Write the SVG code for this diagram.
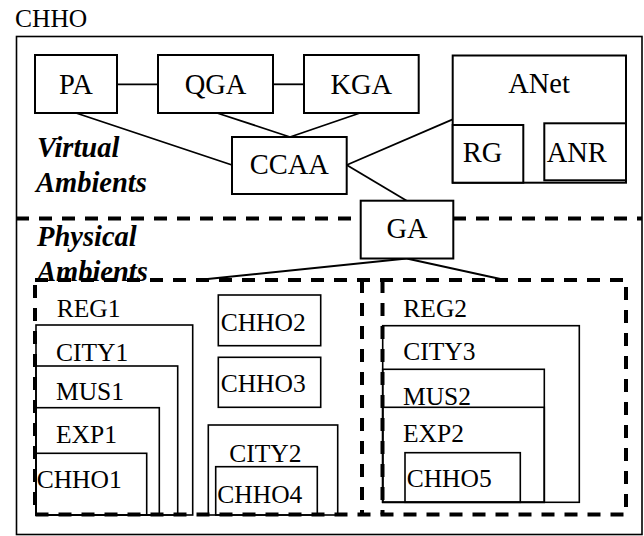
<svg xmlns="http://www.w3.org/2000/svg" width="644" height="536" viewBox="0 0 644 536">
<style>
.b{fill:#fff;stroke:#000;stroke-width:2}
.t{fill:none;stroke:#000;stroke-width:1.6}
.ln{stroke:#000;stroke-width:1.8;fill:none}
.d{fill:none;stroke:#000;stroke-width:4;stroke-dasharray:13 10}
.L{font-family:"Liberation Serif","Times New Roman",serif;font-size:28.5px;fill:#000}
.S{font-family:"Liberation Serif","Times New Roman",serif;font-size:25.5px;fill:#000}
.BI{font-family:"Liberation Serif","Times New Roman",serif;font-size:28.5px;font-weight:bold;font-style:italic;fill:#000}
.m{text-anchor:middle}
</style>
<rect id="outer" x="16.5" y="36.5" width="625.5" height="498" fill="#fff" stroke="#000" stroke-width="1.6"/>
<text class="S" x="15" y="27">CHHO</text>
<text class="BI" x="37" y="157">Virtual</text>
<text class="BI" x="36" y="192">Ambients</text>
<line class="d" x1="16" y1="218.5" x2="642" y2="218.5"/>
<text class="BI" x="37" y="245.5">Physical</text>
<text class="BI" x="37" y="280.5">Ambients</text>
<g id="connectors">
<line class="ln" x1="117" y1="84.3" x2="158" y2="84.3"/>
<line class="ln" x1="273" y1="84.3" x2="304" y2="84.3"/>
<line class="ln" x1="76" y1="113" x2="232" y2="165"/>
<line class="ln" x1="217" y1="113" x2="290" y2="137"/>
<line class="ln" x1="360" y1="113" x2="290" y2="137"/>
<line class="ln" x1="346.7" y1="165" x2="452.7" y2="119.3"/>
<line class="ln" x1="346.7" y1="165" x2="406.7" y2="200.7"/>
<line class="ln" x1="406.7" y1="258.5" x2="198" y2="280"/>
<line class="ln" x1="406.7" y1="258.5" x2="505" y2="280"/>
</g>
<g id="PA"><rect class="b" x="35" y="55" width="82" height="58"/><text class="L m" x="76" y="94">PA</text></g>
<g id="QGA"><rect class="b" x="158" y="55" width="115" height="58"/><text class="L m" x="215.5" y="94">QGA</text></g>
<g id="KGA"><rect class="b" x="304" y="55" width="114.7" height="58"/><text class="L m" x="361.3" y="94">KGA</text></g>
<g id="CCAA"><rect class="b" x="232" y="137" width="114.7" height="57"/><text class="L m" x="289.3" y="174">CCAA</text></g>
<g id="ANet"><rect class="b" x="452.7" y="55.5" width="173.3" height="127.2"/><text class="L m" x="539" y="92.7">ANet</text></g>
<g id="RG"><rect class="b" x="452.7" y="125" width="70.6" height="57.7"/><text class="L" x="462.7" y="162">RG</text></g>
<g id="ANR"><rect class="b" x="544.3" y="123.3" width="81.7" height="57"/><text class="L" x="546.7" y="162">ANR</text></g>
<g id="GA"><rect class="b" x="360.7" y="200.7" width="92.6" height="57.8"/><text class="L m" x="407" y="238">GA</text></g>
<g id="REG1">
<text class="S" x="56.7" y="317.3">REG1</text>
</g>
<g id="CITY1"><rect class="t" x="36" y="325" width="156.7" height="190"/><text class="S" x="56" y="361">CITY1</text></g>
<g id="MUS1"><rect class="t" x="36" y="366" width="141.7" height="149"/><text class="S" x="56" y="400">MUS1</text></g>
<g id="EXP1"><rect class="t" x="36" y="407.7" width="123.3" height="107.3"/><text class="S" x="56" y="442.7">EXP1</text></g>
<g id="CHHO1"><rect class="t" x="36" y="453.3" width="110.7" height="61.7"/><text class="S" x="36.7" y="488.3">CHHO1</text></g>
<g id="CHHO2"><rect class="t" x="218.3" y="295" width="102.4" height="50.7"/><text class="S" x="220.7" y="330.7">CHHO2</text></g>
<g id="CHHO3"><rect class="t" x="218.3" y="357.3" width="102.4" height="50"/><text class="S" x="220.7" y="392.3">CHHO3</text></g>
<g id="CITY2"><rect class="t" x="208.3" y="425" width="129.4" height="90"/><text class="S" x="229.3" y="461.7">CITY2</text></g>
<g id="CHHO4"><rect class="t" x="215.7" y="466.7" width="101.6" height="48.3"/><text class="S" x="217.3" y="502.7">CHHO4</text></g>
<g id="REG2">
<text class="S" x="403.3" y="316.7">REG2</text>
</g>
<g id="CITY3"><rect class="t" x="382.7" y="325.7" width="196.6" height="176.6"/><text class="S" x="403.3" y="360">CITY3</text></g>
<g id="MUS2"><rect class="t" x="382.7" y="369.3" width="161.6" height="133"/><text class="S" x="403" y="405">MUS2</text></g>
<g id="EXP2"><rect class="t" x="382.7" y="407.3" width="161.6" height="95"/><text class="S" x="403" y="442.3">EXP2</text></g>
<g id="CHHO5"><rect class="t" x="405" y="452.7" width="115.3" height="49.6"/><text class="S" x="406.7" y="486.7">CHHO5</text></g>
<g id="regions">
<rect class="d" x="35" y="280" width="591" height="234.5"/>
<line class="d" x1="362" y1="280" x2="362" y2="514.5"/>
<line class="d" x1="382.5" y1="280" x2="382.5" y2="514.5"/>
</g>
</svg>
